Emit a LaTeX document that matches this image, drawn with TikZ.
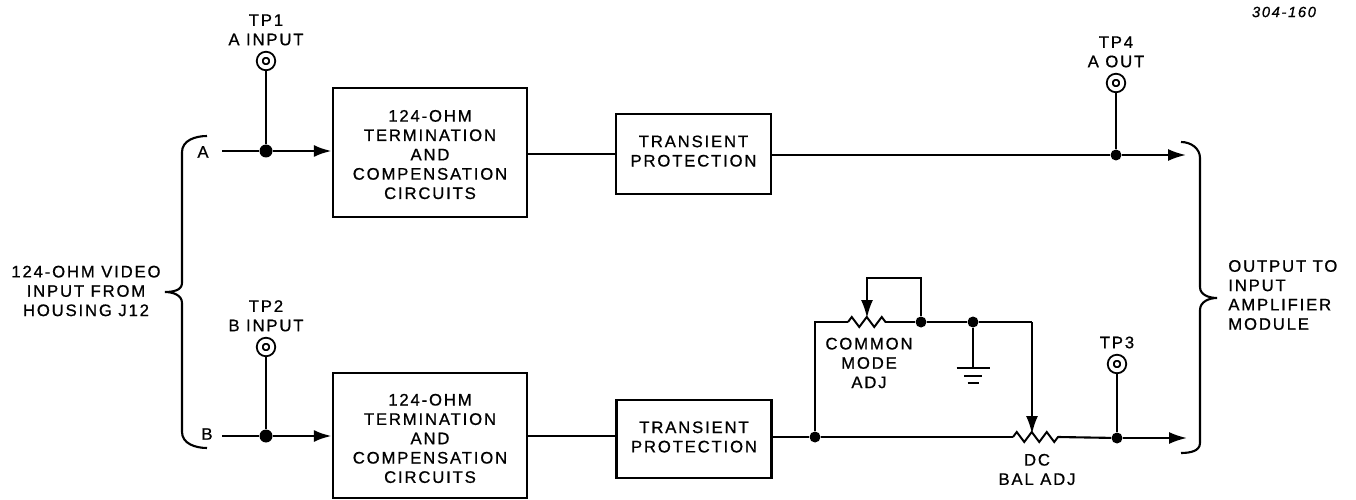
\documentclass[tikz,border=0pt]{standalone}
\usepackage{fontspec}
\setmainfont[LetterSpace=11,FakeBold=0.8]{Liberation Sans}
\usetikzlibrary{positioning,arrows.meta,decorations.pathmorphing}
\tikzset{
  block/.style={draw, line width=1.2pt, align=center, inner sep=0pt},
  lab/.style={align=center, inner sep=0pt},
  testpt/.style={draw, circle, line width=1.1pt, double, double distance=2.2pt, inner sep=0pt, minimum size=0.25cm, outer sep=0.08cm},
  junc/.style={circle, fill=black, inner sep=0pt, minimum size=0.22cm},
  bigjunc/.style={junc, minimum size=0.26cm},
  wire/.style={line width=1.2pt},
  heavy/.style={line width=1.7pt},
  arr/.style={-{Latex[length=3.6mm,width=2.4mm]}, line width=1.2pt},
  res/.style={line width=1.1pt, decorate, decoration={zigzag, segment length=0.3cm, amplitude=0.1cm}}
}
\begin{document}
\begin{tikzpicture}[font=\fontsize{9.5}{11}\selectfont]
  \useasboundingbox (0,0) rectangle (27.12,9.98);

  \node[block, minimum width=3.88cm, minimum height=2.58cm] (boxa) at (8.60,6.93) {\rule{0pt}{9pt}124-OHM\\TERMINATION\\AND\\COMPENSATION\\CIRCUITS};
  \node[block, minimum width=3.10cm, minimum height=1.60cm] (trana) at (13.87,6.90) {TRANSIENT\\PROTECTION\rule[-3.4pt]{0pt}{1pt}};
  \node[block, minimum width=3.88cm, minimum height=2.50cm] (boxb) at (8.60,1.27) {\rule{0pt}{10pt}124-OHM\\TERMINATION\\AND\\COMPENSATION\\CIRCUITS};
  \node[block, minimum width=3.10cm, minimum height=1.56cm] (tranb) at (13.88,1.20) {TRANSIENT\\PROTECTION\rule[-2.4pt]{0pt}{1pt}};

  % top channel
  \node[lab] (lblA) at (4.06,6.94) {A};
  \coordinate (ina) at (4.44,6.96);
  \node[bigjunc] (ja) at (5.32,6.96) {};
  \node[testpt] (tp1) at (5.32,8.76) {};
  \node[lab, above=0.10cm of tp1] (tp1lab) {TP1\\A INPUT};
  \node[junc] (jd) at (22.32,6.88) {};
  \node[testpt] (tp4) at (22.32,8.32) {};
  \node[lab, above=0.10cm of tp4] (tp4lab) {TP4\\A OUT};
  \coordinate (outa) at (23.72,6.88);

  \draw[heavy] (tp1) -- (ja);
  \draw[heavy] (ina) -- (ja);
  \draw[arr, heavy] (ja) -- (ja -| boxa.west);
  \draw[wire] (boxa.east |- trana) -- (trana.west);
  \draw[wire] (trana.east |- jd) -- (jd);
  \draw[wire] (tp4) -- (jd);
  \draw[arr] (jd) -- (outa);

  % bottom channel
  \node[lab] (lblB) at (4.14,1.30) {B};
  \coordinate (inb) at (4.44,1.26);
  \node[bigjunc] (jb) at (5.32,1.26) {};
  \node[testpt] (tp2) at (5.32,3.04) {};
  \node[lab, above=0.10cm of tp2] (tp2lab) {TP2\\B INPUT};
  \node[junc] (jc) at (16.30,1.24) {};
  \node[junc] (jt) at (22.34,1.22) {};
  \node[testpt] (tp3) at (22.34,2.70) {};
  \node[lab, above=0.10cm of tp3] (tp3lab) {TP3};
  \coordinate (outb) at (23.74,1.22);
  \coordinate (dcl) at (20.26,1.24);
  \coordinate (dcr) at (21.16,1.24);
  \coordinate (dcw) at (20.64,1.30);
  \node[lab] (dclab) at (20.74,0.59) {DC\\BAL ADJ};

  \draw[heavy] (tp2) -- (jb);
  \draw[heavy] (inb) -- (jb);
  \draw[arr, heavy] (jb) -- (jb -| boxb.west);
  \draw[wire] (boxb.east |- jb) -- (tranb.west |- jb);
  \draw[wire] (tranb.east |- jc) -- (jc);
  \draw[wire] (jc) -- (dcl);
  \draw[res] (dcl) -- (dcr);
  \draw[wire] (dcr) -- (jt);
  \draw[wire] (tp3) -- (jt);
  \draw[arr] (jt) -- (outb);

  % balance network
  \coordinate (cml) at (16.96,3.54);
  \coordinate (cmr) at (17.86,3.54);
  \coordinate (cmw) at (17.34,3.62);
  \coordinate (cmtop) at (17.34,4.42);
  \node[junc] (jm) at (18.42,3.54) {};
  \node[junc] (jg) at (19.46,3.54) {};
  \coordinate (gnd) at (19.46,2.62);
  \coordinate (dct) at (20.64,3.54);
  \node[lab] (cmlab) at (17.38,2.72) {COMMON\\MODE\\ADJ};

  \draw[wire] (jc) |- (cml);
  \draw[res] (cml) -- (cmr);
  \draw[wire] (cmr) -- (jm) -- (jg) -- (dct);
  \draw[arr] (jm) |- (cmtop) -- (cmw);
  \draw[arr] (dct) -- (dcw);
  \draw[wire] (jg) -- (gnd);
  \draw[wire] ([xshift=-0.33cm]gnd) -- ([xshift=0.33cm]gnd);
  \draw[wire] ([xshift=-0.18cm,yshift=-0.16cm]gnd) -- ([xshift=0.18cm,yshift=-0.16cm]gnd);
  \draw[wire] ([xshift=-0.11cm,yshift=-0.30cm]gnd) -- ([xshift=0.11cm,yshift=-0.30cm]gnd);

  % braces
  \coordinate (blt) at (4.14,7.26);
  \coordinate (blm) at (3.30,4.14);
  \coordinate (blb) at (4.14,1.02);
  \coordinate (brt) at (23.62,7.14);
  \coordinate (brm) at (24.34,4.02);
  \coordinate (brb) at (23.62,0.92);
  \draw[wire] (blt) to[out=180,in=90] (3.64,6.94) -- (3.64,4.32) to[out=270,in=0] (blm)
    to[out=0,in=90] (3.64,3.92) -- (3.64,1.34) to[out=270,in=180] (blb);
  \draw[wire] (brt) to[out=0,in=90] (24.00,6.82) -- (24.00,4.24) to[out=270,in=180] (brm)
    to[out=180,in=90] (24.00,3.78) -- (24.00,1.12) to[out=270,in=0] (brb);
  \node[lab] (inlab) at (1.72,4.16) {124-OHM VIDEO\\INPUT FROM\\HOUSING J12};
  \node[lab, align=left, anchor=west] (outlab) at (24.56,4.08) {OUTPUT TO\\INPUT\\AMPLIFIER\\MODULE};

  \node[lab, font=\fontsize{8.4}{9}\selectfont\itshape] (figno) at (25.68,9.74) {304-160};
\end{tikzpicture}
\end{document}
